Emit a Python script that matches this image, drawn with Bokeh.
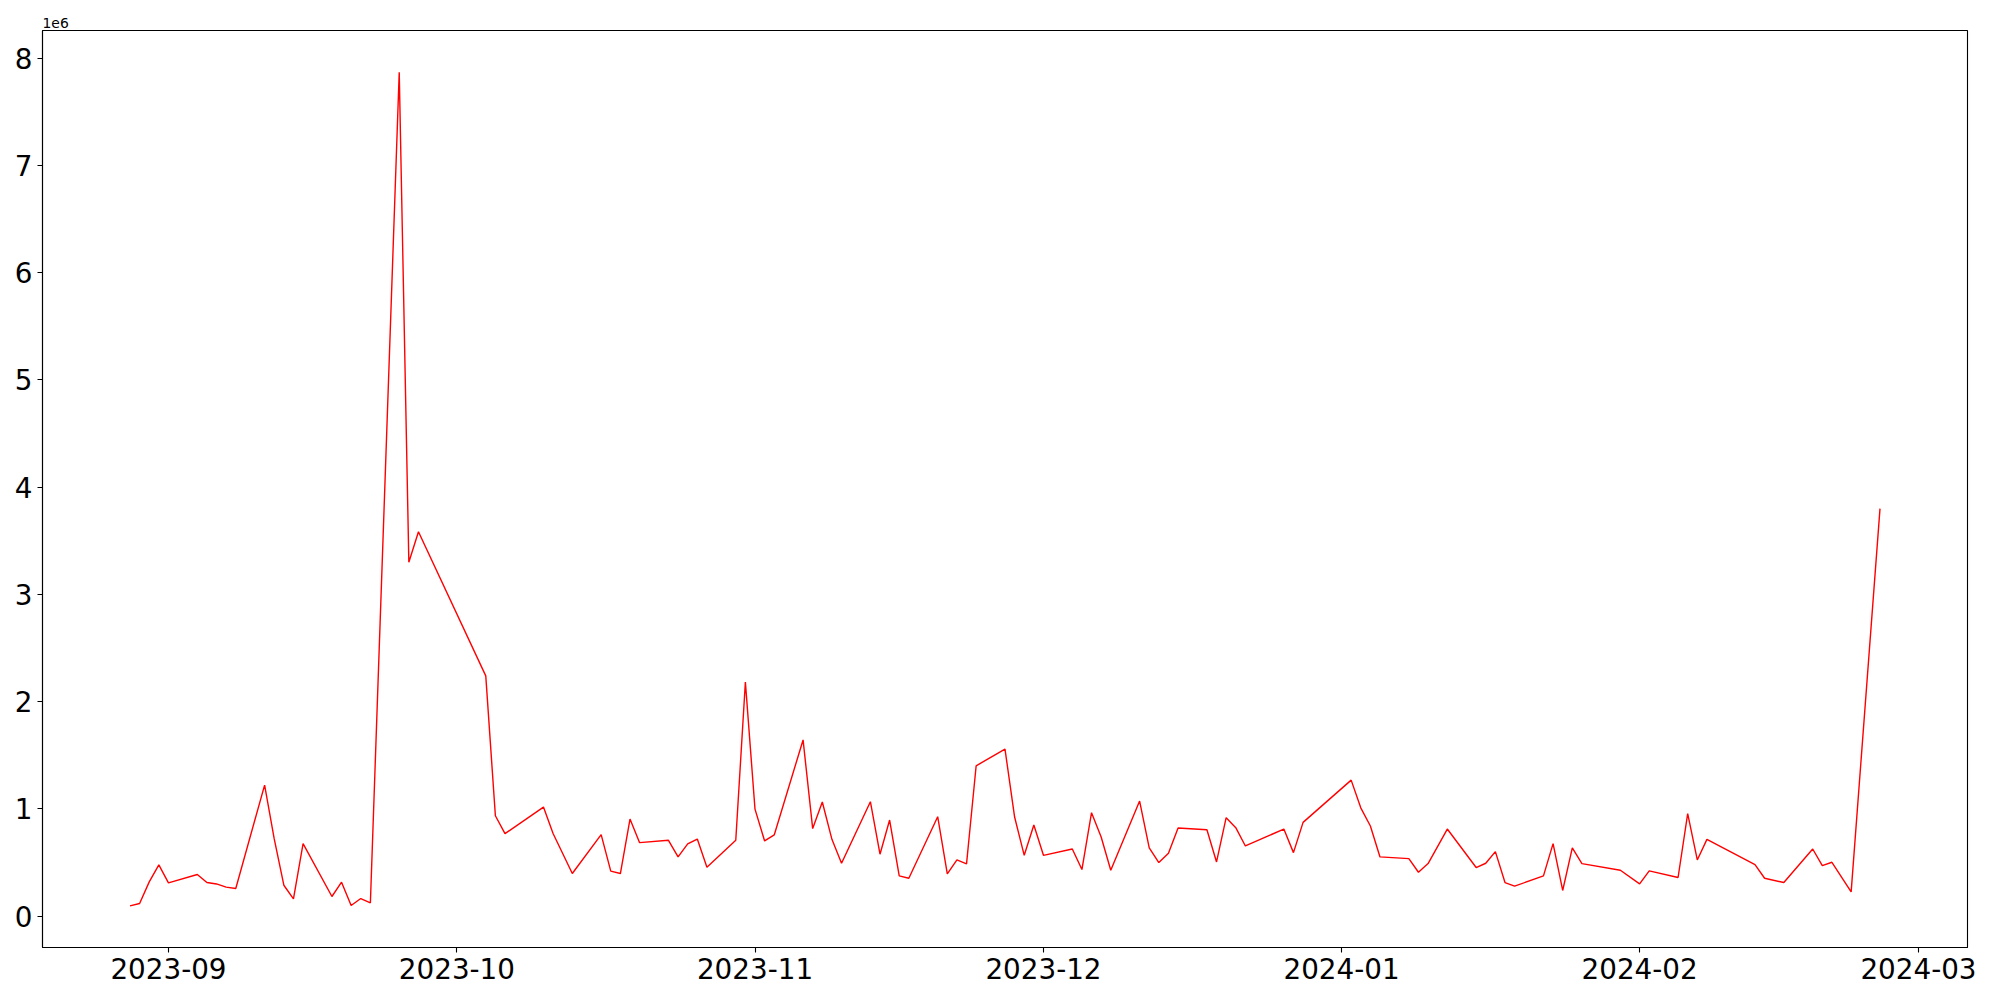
import datetime as dt
from bokeh.plotting import figure
from bokeh.models import FixedTicker, DatetimeTickFormatter, Range1d
from bokeh.embed import file_html
from bokeh.resources import INLINE

dates = [
    "2023-08-28", "2023-08-29", "2023-08-30", "2023-08-31", "2023-09-01",
    "2023-09-04", "2023-09-05", "2023-09-06", "2023-09-07", "2023-09-08",
    "2023-09-11", "2023-09-12", "2023-09-13", "2023-09-14", "2023-09-15",
    "2023-09-18", "2023-09-19", "2023-09-20", "2023-09-21", "2023-09-22",
    "2023-09-25", "2023-09-26", "2023-09-27",
    "2023-10-04", "2023-10-05", "2023-10-06",
    "2023-10-10", "2023-10-11", "2023-10-13",
    "2023-10-16", "2023-10-17", "2023-10-18", "2023-10-19", "2023-10-20",
    "2023-10-23", "2023-10-24", "2023-10-25", "2023-10-26", "2023-10-27",
    "2023-10-30", "2023-10-31", "2023-11-01", "2023-11-02", "2023-11-03",
    "2023-11-06", "2023-11-07", "2023-11-08", "2023-11-09", "2023-11-10",
    "2023-11-13", "2023-11-14", "2023-11-15", "2023-11-16", "2023-11-17",
    "2023-11-20", "2023-11-21", "2023-11-22", "2023-11-23", "2023-11-24",
    "2023-11-27", "2023-11-28", "2023-11-29", "2023-11-30", "2023-12-01",
    "2023-12-04", "2023-12-05", "2023-12-06", "2023-12-07", "2023-12-08",
    "2023-12-11", "2023-12-12", "2023-12-13", "2023-12-14", "2023-12-15",
    "2023-12-18", "2023-12-19", "2023-12-20", "2023-12-21", "2023-12-22",
    "2023-12-26", "2023-12-27", "2023-12-28",
    "2024-01-02", "2024-01-03", "2024-01-04", "2024-01-05",
    "2024-01-08", "2024-01-09", "2024-01-10", "2024-01-12",
    "2024-01-15", "2024-01-16", "2024-01-17", "2024-01-18", "2024-01-19",
    "2024-01-22", "2024-01-23", "2024-01-24", "2024-01-25", "2024-01-26",
    "2024-01-30", "2024-02-01", "2024-02-02",
    "2024-02-05", "2024-02-06", "2024-02-07", "2024-02-08",
    "2024-02-13", "2024-02-14", "2024-02-16",
    "2024-02-19", "2024-02-20", "2024-02-21", "2024-02-23",
    "2024-02-26",
]

values = [
    96000, 118000, 319000, 478000, 310000,
    388000, 313000, 300000, 270000, 257000,
    1222000, 720000, 288000, 161000, 676000,
    183000, 316000, 99000, 164000, 124000,
    7870000, 3300000, 3585000,
    2240000, 936000, 769000,
    1017000, 770000, 397000,
    760000, 419000, 397000, 905000, 685000,
    707000, 552000, 673000, 719000, 456000,
    707000, 2183000, 998000, 701000, 757000,
    1643000, 816000, 1064000, 716000, 493000,
    1067000, 577000, 896000, 375000, 353000,
    927000, 394000, 524000, 487000, 1402000,
    1557000, 924000, 567000, 850000, 567000,
    626000, 434000, 964000, 738000, 428000,
    1073000, 636000, 499000, 586000, 822000,
    806000, 505000, 918000, 825000, 654000,
    812000, 592000, 874000,
    1268000, 1010000, 840000, 552000,
    536000, 409000, 490000, 812000,
    453000, 493000, 601000, 313000, 279000,
    375000, 676000, 239000, 636000, 490000,
    428000, 300000, 422000,
    360000, 955000, 524000, 716000,
    480000, 353000, 313000,
    626000, 471000, 502000, 226000,
    3800000,
]

month_ticks = ["2023-09-01", "2023-10-01", "2023-11-01", "2023-12-01",
               "2024-01-01", "2024-02-01", "2024-03-01"]
y_ticks = [0, 1000000, 2000000, 3000000, 4000000, 5000000, 6000000, 7000000, 8000000]
y_tick_labels = ["0", "1", "2", "3", "4", "5", "6", "7", "8"]
offset_text = "1e6"

x = [dt.datetime.strptime(d, "%Y-%m-%d") for d in dates]
epoch = dt.datetime(1970, 1, 1)
tick_ms = [(dt.datetime.strptime(d, "%Y-%m-%d") - epoch).total_seconds() * 1000 for d in month_ticks]

# matplotlib-like 5% margins
xmin, xmax = min(x), max(x)
xpad = (xmax - xmin) * 0.05
ymin, ymax = min(values), max(values)
ypad = (ymax - ymin) * 0.05

p = figure(
    width=1992, height=992,
    x_axis_type="datetime",
    x_range=Range1d(xmin - xpad, xmax + xpad),
    y_range=Range1d(ymin - ypad, ymax + ypad),
    output_backend="svg", toolbar_location=None,
    min_border_left=42, min_border_right=25, min_border_top=30, min_border_bottom=45,
)
p.background_fill_color = "white"
p.border_fill_color = "white"
p.outline_line_color = "black"
p.outline_line_width = 1.1
p.outline_line_alpha = 1.0
p.xgrid.visible = False
p.ygrid.visible = False

p.title.text = offset_text
p.title.align = "left"
p.title.text_font = "DejaVu Sans"
p.title.text_font_size = "13.9px"
p.title.text_font_style = "normal"
p.title.text_color = "black"
p.title.standoff = 6
p.title.offset = 0

p.line(x, values, line_color="red", line_width=1.4)

xa = p.xaxis[0]
xa.ticker = FixedTicker(ticks=tick_ms)
fmt = "%Y-%m"
xa.formatter = DatetimeTickFormatter(
    microseconds=fmt, milliseconds=fmt, seconds=fmt, minsec=fmt, minutes=fmt,
    hourmin=fmt, hours=fmt, days=fmt, months=fmt, years=fmt,
)
ya = p.yaxis[0]
ya.ticker = FixedTicker(ticks=y_ticks)
ya.major_label_overrides = {t: l for t, l in zip(y_ticks, y_tick_labels)}

for ax in (xa, ya):
    ax.major_label_text_font = "DejaVu Sans"
    ax.major_label_text_font_size = "27.8px"
    ax.major_label_text_color = "black"
    ax.major_tick_out = 5
    ax.major_tick_in = 0
    ax.minor_tick_out = 0
    ax.minor_tick_in = 0
    ax.major_label_standoff = 5
    ax.axis_line_width = 1.1
    ax.major_tick_line_width = 1.1
    ax.axis_line_color = "black"
    ax.major_tick_line_color = "black"

open("out.html", "w").write(file_html(p, INLINE))
